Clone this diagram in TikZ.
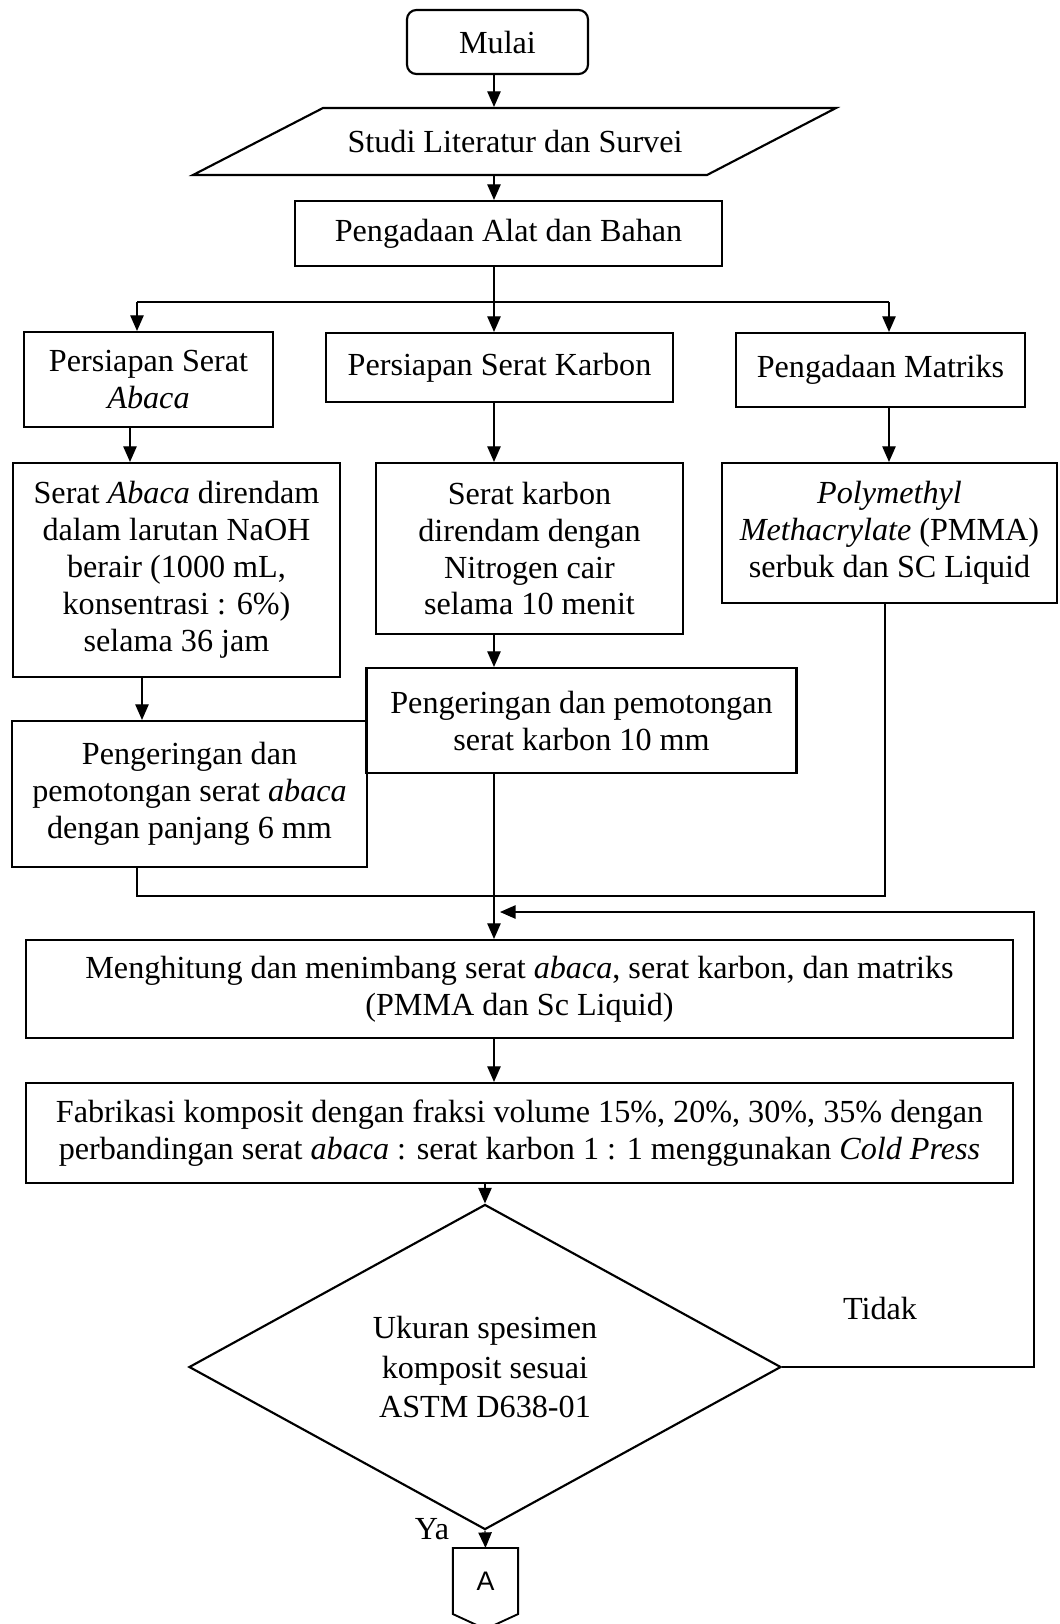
\documentclass[tikz,border=0pt]{standalone}
\usepackage{fontspec}
\setmainfont{Liberation Serif}
\newfontfamily\sansA{Liberation Sans}
\usetikzlibrary{arrows.meta,shapes.geometric}
\newcommand{\pxl}{0.3731pt}
\begin{document}
\begin{tikzpicture}[x=0.3731pt,y=-0.3731pt,font=\fontsize{12}{13.8}\selectfont,
	box/.style 2 args={draw,line width=0.8pt,align=center,inner sep=0pt,minimum width=#1*\pxl,minimum height=#2*\pxl},
	arr/.style={line width=0.45pt,-{Triangle[length=5.8pt,width=5pt]}},
	ln/.style={line width=0.45pt}]
				\useasboundingbox (0,0) rectangle (1059,1624);
				\coordinate (c1) at (494,0);
				\coordinate (c2) at (130,0);
				\coordinate (c3) at (142,0);
				
				\node[box={181}{64},rounded corners=3.5pt] (A) at (497.5,42) {Mulai};
				\node[box={384}{67},draw=none] (B) at (515,141.5) {Studi Literatur dan Survei};
				\draw[line width=0.8pt] (193,175) -- (323,108) -- (836,108) -- (707,175) -- cycle;
				\node[box={427}{65}] (C) at (508.5,233.5) {Pengadaan Alat dan Bahan};
				
				\node[box={249}{95}] (D) at (148.5,379.5) {Persiapan Serat\\\textit{Abaca}};
				\node[box={347}{69}] (E) at (499.5,367.5) {Persiapan Serat Karbon};
				\node[box={289}{74}] (F) at (880.5,370) {Pengadaan Matriks};
				
				\node[box={327}{214}] (G) at (176.5,570) {Serat \textit{Abaca} direndam\\dalam larutan NaOH\\berair (1000 mL,\\konsentrasi : 6\%)\\selama 36 jam};
				\node[box={307}{171}] (H) at (529.5,548.5) {Serat karbon\\direndam dengan\\Nitrogen cair\\selama 10 menit};
				\node[box={335}{140}] (I) at (889.5,533) {\textit{Polymethyl}\\\textit{Methacrylate} (PMMA)\\serbuk dan SC Liquid};
				
				\node[box={355}{146}] (J) at (189.5,794) {Pengeringan dan\\pemotongan serat \textit{abaca}\\dengan panjang 6 mm};
				\node[box={430}{105}] (K) at (581.5,720.5) {Pengeringan dan pemotongan\\serat karbon 10 mm};
				
				\node[box={987}{98}] (L) at (519.5,989) {Menghitung dan menimbang serat \textit{abaca}, serat karbon, dan matriks\\(PMMA dan Sc Liquid)};
				\node[box={987}{100}] (M) at (519.5,1133) {Fabrikasi komposit dengan fraksi volume 15\%, 20\%, 30\%, 35\% dengan\\perbandingan serat \textit{abaca} : serat karbon 1 : 1 menggunakan \textit{Cold Press}};
				\node[box={592}{272},diamond,font=\fontsize{12}{14.6}\selectfont] (N) at (485,1367) {Ukuran spesimen\\komposit sesuai\\ASTM D638-01};
				\node[box={63}{64},draw=none,font=\sansA\fontsize{10}{12}\selectfont] (O) at (485.5,1581) {A};
				\draw[line width=0.7pt] (O.north west) -- (O.north east) -- (O.south east) -- ([yshift=-15*\pxl]O.south) -- (O.south west) -- cycle;
				\node (T) at (880,1308) {Tidak};
				\node (Y) at (432,1529) {Ya};
				
				\draw[arr] (A.south -| c1) -- (B.north -| c1);
				\draw[arr] (B.south -| c1) -- (C.north -| c1);
				\coordinate (b1) at (137,302);
				\coordinate (b2) at (889,302);
				\draw[ln] (b1) -- (b2);
				\draw[arr] (C.south -| c1) -- (E.north -| c1);
				\draw[arr] (b1) -- (D.north -| b1);
				\draw[arr] (b2) -- (F.north -| b2);
				\draw[arr] (D.south -| c2) -- (G.north -| c2);
				\draw[arr] (E.south -| c1) -- (H.north -| c1);
				\draw[arr] (F.south -| b2) -- (I.north -| b2);
				\draw[arr] (G.south -| c3) -- (J.north -| c3);
				\draw[arr] (H.south -| c1) -- (K.north -| c1);
				\coordinate (m1) at (137,896);
				\coordinate (m2) at (885,896);
				\draw[ln] (J.south -| m1) -- (m1) -- (m2) -- (I.south -| m2);
				\draw[arr] (K.south -| c1) -- (L.north -| c1);
				\coordinate (f1) at (1034,912);
				\coordinate (f2) at (500,912);
				\draw[arr] (N.east) -| (f1) -- (f2);
				\draw[arr] (L.south -| c1) -- (M.north -| c1);
				\draw[arr] (M.south -| N) -- (N.north);
				\draw[arr] (N.south) -- (O.north);
			\end{tikzpicture}
\end{document}
